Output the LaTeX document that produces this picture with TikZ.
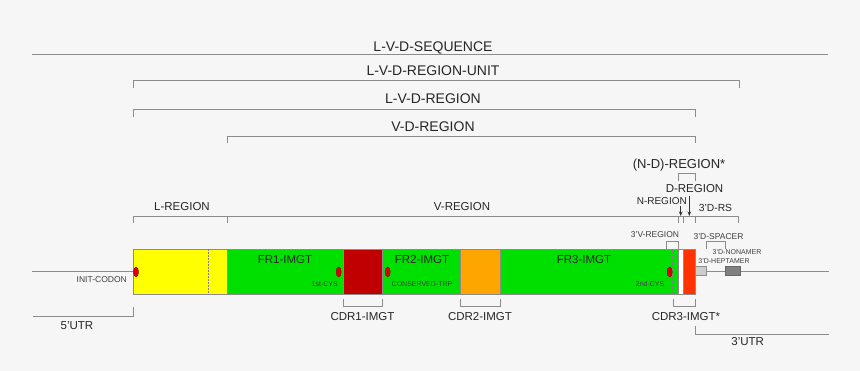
\documentclass[tikz,border=0pt]{standalone}
\usepackage{fontspec}
\setmainfont{Liberation Sans}
\usepackage{xcolor}
\usetikzlibrary{arrows.meta, positioning}

\definecolor{pagegray}{HTML}{F6F6F6}
\definecolor{frgreen}{HTML}{00E000}
\definecolor{cdrone}{HTML}{C00000}
\definecolor{cdrtwo}{HTML}{FFA500}
\definecolor{cdrthree}{HTML}{FF3300}
\definecolor{leader}{HTML}{FFFF00}

\begin{document}
\begin{tikzpicture}[
            x=1pt, y=-1pt,
            every node/.style={
                    inner sep=0,
                    anchor=base,
                    text=black!85
                },
            big label/.style={
                    font=\fontsize{14}{16}\selectfont
                },
            mid label/.style={
                    font=\fontsize{11.5}{13}\selectfont
                },
            small label/.style={
                    font=\fontsize{8.5}{10}\selectfont,
                    text=black!75
                },
            tiny label/.style={
                    font=\fontsize{7}{8}\selectfont,
                    text=black!75
                },
            bracket/.style={
                    draw=black!45,
                    line width=0.8pt
                },
            segment/.style={
                    draw=black!45,
                    line width=0.6pt
                },
            cut line/.style={
                    draw=black!50,
                    line width=0.5pt,
                    dash pattern=on 1.5pt off 1.5pt
                },
            motif/.style={
                    fill=red!85!black,
                    draw=red!55!black,
                    line width=0.3pt
                },
            pointer/.style={
                    draw=black!80,
                    line width=0.6pt,
                    -{Stealth[length=4.5pt, width=3.6pt]}
                }
        ]

        \useasboundingbox[fill=pagegray] (0,0) rectangle (860,371);

        % Top brackets
        \node[big label] (seq) at (433,51.5) {L-V-D-SEQUENCE};
        \node[big label] (unit) at (433,75.7) {L-V-D-REGION-UNIT};
        \node[big label] (lvd) at (433,104) {L-V-D-REGION};
        \node[big label] (vd) at (433,131.7) {V-D-REGION};

        \draw[bracket] (32,54) -- (828,54);
        \draw[bracket] (133.5,88) |- (739,80.7) -- (739,88);
        \draw[bracket] (133.5,117.5) |- (695,109.5) -- (695,117.5);
        \draw[bracket] (227.5,143.5) |- (695,136) -- (695,143.5);

        % (N-D) and D
        \node[font=\fontsize{13}{15}\selectfont] (nd) at (679,168.7) {(N-D)-REGION*};
        \draw[bracket] (678.7,181) |- (695.3,173.3) -- (695.3,181);
        \node[mid label] (dreg) at (694.5,193) {D-REGION};
        \node[font=\fontsize{10}{12}\selectfont, anchor=base east] (nreg) at (687,204.6) {N-REGION};
        \node[font=\fontsize{10.3}{12}\selectfont] (drs) at (715.5,211.7) {3'D-RS};

        \coordinate (n tip) at (680.7,216);
        \coordinate (d tip) at (689.3,216);
        \draw[pointer] (n tip |- nreg.south) ++(0,1.5) -- (n tip);
        \draw[pointer] (d tip |- dreg.south) ++(0,2.5) -- (d tip);

        % L-REGION / V-REGION line
        \node[mid label] (lreg) at (182,211) {L-REGION};
        \node[mid label] (vreg) at (462,211) {V-REGION};
        \draw[bracket] (133.5,223) |- (738,216.5) -- (738,223);
        \foreach \t in {227.5,678,683,695} {
                \draw[bracket] (\t,216.5) -- (\t,223);
            }

        % 3' small features
        \node[small label] (vthree) at (655,237.5) {3'V-REGION};
        \draw[bracket] (666,249) |- (678.5,241.5) -- (678.5,249);
        \node[small label] (spacer) at (718.5,240) {3'D-SPACER};
        \draw[bracket] (706.7,249) |- (725.5,241.5) -- (725.5,249);
        \node[tiny label] (nonamer) at (737,254.5) {3'D-NONAMER};
        \node[tiny label] (heptamer) at (724,263.5) {3'D-HEPTAMER};

        % Flanking lines
        \draw[segment] (32,271) -- (133.5,271);
        \draw[segment] (706.7,271) -- (829,271);

        % Gene bar
        \draw[segment, fill=leader] (133.5,249.5) rectangle (227.5,294);
        \draw[segment, fill=frgreen] (227.5,249.5) rectangle (343,294);
        \draw[segment, fill=cdrone] (343,249.5) rectangle (382,294);
        \draw[segment, fill=frgreen] (382,249.5) rectangle (460,294);
        \draw[segment, fill=cdrtwo] (460,249.5) rectangle (500,294);
        \draw[segment, fill=frgreen] (500,249.5) rectangle (678.5,294);
        \draw[segment, fill=white] (678.5,249.5) rectangle (683.5,294);
        \draw[segment, fill=cdrthree] (683.5,249.5) rectangle (695,294);
        \draw[cut line] (208.3,249.5) -- (208.3,294);
        \draw[cut line] (672.3,249.5) -- (672.3,294);

        \draw[segment, fill=black!20] (695,266) rectangle (706.7,275.5);
        \draw[segment, draw=black!60, fill=black!50] (725,266) rectangle (740,275.5);

        % Conserved positions
        \foreach \p in {136,338.7,387.7,669.7} {
                \draw[motif] (\p,272) ellipse [x radius=2.6, y radius=5];
            }

        \node[small label, anchor=base east] (init) at (127,283) {INIT-CODON};
        \node[tiny label, anchor=base east] (cys1) at (338,286.5) {1st-CYS};
        \node[tiny label] (trp) at (422,286.5) {CONSERVED-TRP};
        \node[tiny label, anchor=base east] (cys2) at (664.5,286.5) {2nd-CYS};

        \node[mid label] (fr1) at (285,264) {FR1-IMGT};
        \node[mid label] (fr2) at (422,264) {FR2-IMGT};
        \node[mid label] (fr3) at (584,264) {FR3-IMGT};

        % Bottom brackets
        \draw[bracket] (343,299) |- (382,306.5) -- (382,299);
        \draw[bracket] (460,299) |- (500,306.5) -- (500,299);
        \draw[bracket] (673.5,299) |- (695,306.5) -- (695,299);
        \node[mid label] (cdr1) at (362.5,321) {CDR1-IMGT};
        \node[mid label] (cdr2) at (480,321) {CDR2-IMGT};
        \node[mid label] (cdr3) at (686,320.5) {CDR3-IMGT*};

        \draw[bracket] (33,316) -| (133.5,307);
        \node[mid label] (utr5) at (77,330) {5'UTR};
        \draw[bracket] (695,326) |- (829,334);
        \node[mid label] (utr3) at (747.7,346) {3'UTR};

    \end{tikzpicture}
\end{document}
